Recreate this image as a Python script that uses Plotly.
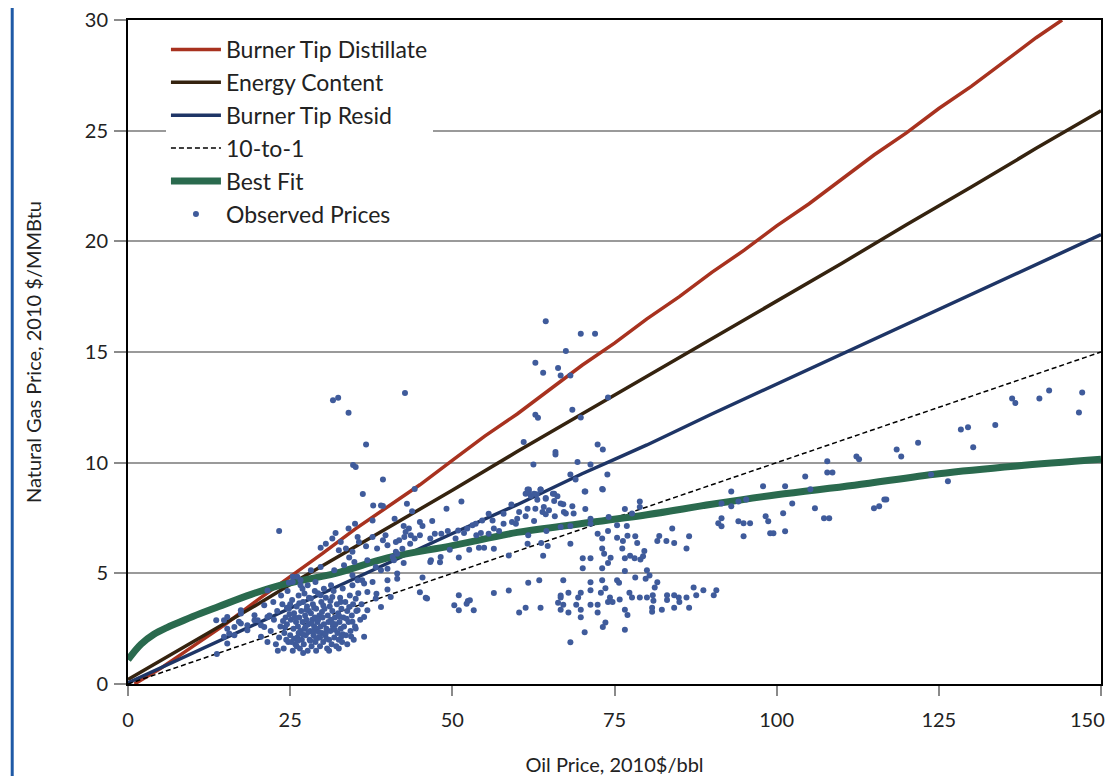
import plotly.graph_objects as go

# line series (oil price in 2010$/bbl vs natural gas price in 2010 $/MMBtu)
distillate_x = [1, 5, 10, 15, 20, 25, 30, 35, 40, 45, 50, 55, 60, 65, 70, 75, 80, 85, 90,
                95, 100, 105, 110, 115, 120, 125, 130, 135, 140, 144]
distillate_y = [0.0, 0.7, 1.7, 2.7, 3.8, 4.85, 5.9, 7.0, 8.0, 9.0, 10.1, 11.2, 12.2, 13.3,
                14.4, 15.4, 16.5, 17.5, 18.6, 19.6, 20.7, 21.7, 22.8, 23.9, 24.9, 26.0,
                27.0, 28.1, 29.2, 30.0]

energy_x = [0, 10, 20, 25, 30, 40, 50, 60, 70, 75, 80, 90, 100, 110, 120, 125, 130, 140, 150]
energy_y = [0.2, 1.9, 3.6, 4.5, 5.35, 7.05, 8.75, 10.5, 12.2, 13.05, 13.9, 15.6, 17.3,
            19.0, 20.75, 21.6, 22.45, 24.2, 25.9]

resid_x = [0, 10, 20, 25, 30, 40, 50, 60, 70, 75, 80, 90, 100, 110, 120, 125, 130, 140, 150]
resid_y = [0.05, 1.4, 2.75, 3.4, 4.1, 5.45, 6.8, 8.1, 9.5, 10.15, 10.8, 12.2, 13.55, 14.9,
           16.25, 16.9, 17.6, 18.95, 20.3]

ten_to_one_x = [0, 25, 50, 75, 100, 125, 150]
ten_to_one_y = [0.0, 2.5, 5.0, 7.5, 10.0, 12.5, 15.0]

best_fit_x = [0, 2, 4, 6, 8, 10, 14, 19, 24, 32, 40, 50, 60, 68, 80, 90, 100, 112, 125, 137, 150]
best_fit_y = [1.1, 1.8, 2.25, 2.55, 2.8, 3.05, 3.5, 4.05, 4.5, 5.0, 5.7, 6.25, 6.85, 7.17,
              7.65, 8.12, 8.55, 8.98, 9.5, 9.85, 10.15]

x_ticks = [0, 25, 50, 75, 100, 125, 150]
x_tick_labels = ["0", "25", "50", "75", "100", "125", "150"]

# observed monthly prices (oil, gas)
observed = [
    (112.3, 10.28), (112.7, 10.15), (118.5, 10.6), (119.2, 10.28), (121.8, 10.9), (123.8, 9.47),
    (126.4, 9.16), (128.4, 11.5), (129.5, 11.6), (130.3, 10.7), (133.7, 11.7), (136.3, 12.9),
    (136.8, 12.7), (140.5, 12.9), (142.0, 13.26), (146.6, 12.27), (147.1, 13.17), (115.0, 7.94),
    (115.8, 8.03), (116.6, 8.34), (116.9, 8.34),
    (88.7, 4.24), (90.3, 4.01), (90.7, 4.24), (91.5, 8.16), (93.0, 8.7), (93.0, 8.03), (94.1, 8.25),
    (95.3, 8.34), (91.0, 7.26), (91.5, 7.13), (91.5, 7.49), (94.1, 7.35), (94.9, 7.26), (94.9, 6.68),
    (95.9, 7.26), (97.9, 8.93), (98.3, 7.58), (98.7, 7.35), (99.0, 6.81), (99.5, 6.81), (101.0, 7.71),
    (101.3, 8.93), (101.3, 6.9), (102.4, 8.16), (104.4, 9.38), (105.2, 8.8), (105.9, 7.94),
    (107.3, 7.49), (108.1, 7.49), (107.8, 10.06), (107.8, 9.56), (108.6, 9.56),
    (61.8, 8.79), (63.6, 8.79), (65.7, 8.60), (61.3, 8.60), (62.1, 8.49), (63.0, 8.57), (64.4, 8.37),
    (66.2, 8.48), (70.4, 8.70), (73.1, 8.81), (63.1, 8.33), (65.7, 8.27), (66.7, 8.15), (67.1, 8.12),
    (68.5, 8.03), (70.5, 7.91), (67.2, 7.77), (64.1, 8.00), (62.8, 7.92), (61.6, 7.92), (64.9, 7.85),
    (63.9, 7.77), (65.8, 7.58), (64.4, 7.67), (67.5, 7.70), (68.7, 7.70), (62.6, 7.37), (61.3, 7.58),
    (66.7, 7.09), (68.2, 7.14), (71.3, 7.47), (71.3, 7.24), (74.1, 7.55), (75.4, 7.17), (76.9, 7.14),
    (76.6, 7.91), (78.9, 8.24), (78.9, 8.00), (77.7, 7.70), (83.9, 7.02), (64.5, 6.91), (61.7, 6.72),
    (61.6, 6.34), (63.7, 6.37), (64.7, 6.24), (68.2, 6.34), (72.4, 6.79), (74.0, 6.91), (73.1, 6.57),
    (75.4, 6.61), (76.3, 6.46), (77.0, 6.70), (78.2, 6.67), (78.5, 6.37), (81.6, 6.46), (81.9, 6.69),
    (83.0, 6.46), (84.2, 6.37), (86.5, 6.67), (86.1, 6.12), (73.1, 6.12), (76.2, 6.12), (73.4, 5.89),
    (74.4, 5.70), (74.0, 5.47), (71.3, 5.68), (70.1, 5.68), (70.1, 5.23), (73.1, 5.23), (76.6, 5.68),
    (77.4, 5.80), (78.1, 5.68), (79.0, 5.62), (79.4, 5.77), (79.6, 6.01), (64.0, 5.79), (76.6, 5.11),
    (80.0, 5.14), (80.4, 4.90), (78.2, 4.81), (79.8, 4.75), (81.6, 4.60), (61.7, 4.57), (63.4, 4.69),
    (67.1, 4.69), (71.3, 4.60), (73.1, 4.69), (75.4, 4.69), (75.7, 4.57), (81.2, 4.36), (87.2, 4.36),
    (73.6, 4.33), (72.9, 4.12), (71.3, 4.24), (69.8, 4.12), (67.9, 4.12), (66.7, 4.00), (66.7, 3.91),
    (69.4, 3.91), (74.3, 3.91), (75.8, 3.82), (77.3, 4.12), (77.7, 3.91), (78.9, 3.91), (80.0, 3.91),
    (80.9, 4.01), (81.0, 3.76), (83.1, 4.01), (83.1, 3.79), (84.2, 4.01), (84.9, 3.91), (86.1, 3.91),
    (87.6, 4.01), (61.3, 3.45), (63.6, 3.45), (66.3, 3.67), (67.1, 3.58), (69.1, 3.58), (66.7, 3.35),
    (67.9, 3.23), (69.8, 3.35), (69.8, 3.02), (71.3, 3.58), (72.4, 3.58), (72.4, 3.23), (74.0, 3.70),
    (74.7, 3.70), (76.6, 3.35), (77.0, 3.12), (80.8, 3.45), (80.8, 3.26), (82.3, 3.35), (84.2, 3.45),
    (85.0, 3.70), (86.5, 3.45), (73.6, 2.78), (73.2, 2.57), (76.6, 2.45), (70.4, 2.34), (68.2, 1.89),
    (64.4, 16.39), (69.8, 15.83), (72.0, 15.83), (67.5, 15.05), (62.8, 14.51), (64.0, 14.06),
    (66.3, 14.28), (66.7, 13.94), (68.2, 13.94), (74.0, 12.94), (68.5, 12.39), (62.8, 12.16),
    (63.2, 12.03), (69.8, 12.04), (61.0, 10.93), (72.4, 10.82), (73.2, 10.60), (65.9, 10.48),
    (65.9, 10.37), (62.5, 9.92), (69.3, 10.03), (71.3, 9.92), (73.9, 9.47), (68.2, 9.47), (69.0, 9.24),
    (70.5, 8.70), (73.2, 8.79), (61.6, 8.79), (61.8, 8.67), (62.6, 8.60), (63.6, 8.79), (65.5, 8.60),
    (64.4, 8.40),
    (44.2, 8.81), (43.0, 8.14), (51.4, 8.25), (49.1, 7.92), (41.1, 7.47), (43.8, 7.80), (45.0, 7.32),
    (45.4, 7.14), (46.9, 7.36), (42.5, 7.14), (43.3, 7.02), (42.8, 6.87), (41.3, 6.42), (41.8, 6.49),
    (42.6, 6.64), (43.6, 6.72), (44.2, 6.57), (45.0, 6.72), (43.5, 6.34), (42.3, 6.11), (46.6, 6.57),
    (47.3, 6.79), (48.3, 6.79), (49.3, 6.91), (50.5, 6.57), (50.9, 6.94), (51.8, 6.82), (52.3, 7.02),
    (53.1, 7.17), (53.7, 6.72), (54.4, 6.82), (55.6, 6.79), (56.4, 7.02), (57.2, 6.91), (57.9, 7.24),
    (53.6, 7.24), (54.6, 7.39), (55.6, 7.69), (56.2, 7.39), (57.9, 7.69), (59.2, 7.32), (59.8, 7.24),
    (60.0, 7.47), (60.3, 7.77), (59.1, 8.11), (52.6, 6.07), (54.1, 6.16), (54.9, 6.16), (56.4, 6.11),
    (58.7, 5.81), (48.2, 5.74), (46.6, 5.51), (46.7, 5.59), (48.1, 5.50), (51.0, 5.71), (49.6, 6.07),
    (40.8, 5.74), (41.5, 5.89), (42.5, 5.47), (41.5, 4.76), (45.4, 4.81), (45.0, 4.14), (45.9, 3.90),
    (46.1, 3.86), (51.0, 4.01), (50.3, 3.56), (51.0, 3.33), (52.4, 3.75), (52.7, 3.78), (52.2, 3.63),
    (53.3, 3.33), (56.4, 4.11), (58.7, 4.23), (60.3, 3.23), (40.0, 4.27),
    (39.3, 9.24), (36.2, 8.58), (23.3, 6.91), (37.8, 8.06), (39.0, 8.06), (37.7, 7.39), (35.0, 7.24),
    (34.0, 7.02), (32.0, 6.82), (31.5, 6.57), (29.7, 6.16), (30.5, 6.34), (32.8, 6.42), (32.5, 6.04),
    (33.6, 6.12), (34.6, 5.97), (35.4, 6.64), (35.6, 6.42), (36.7, 6.22), (37.7, 6.64), (38.4, 6.12),
    (39.3, 6.49), (39.7, 6.72), (40.0, 6.27), (41.3, 5.97), (41.0, 5.59), (41.5, 4.99), (34.1, 5.71),
    (34.9, 5.51), (36.9, 5.59), (38.2, 5.29), (39.0, 5.14), (40.0, 5.21), (28.2, 5.14), (29.7, 5.29),
    (31.8, 5.14), (33.3, 5.36), (34.6, 4.91), (36.1, 4.69), (37.7, 4.61), (24.8, 4.57), (25.4, 4.61),
    (26.1, 4.84), (26.6, 4.46), (27.7, 4.46), (28.9, 4.61), (31.3, 4.46), (33.1, 4.31), (34.6, 4.46),
    (36.9, 4.16), (38.2, 3.86), (39.0, 3.48), (40.5, 3.93), (27.2, 4.09), (28.2, 3.86), (29.7, 4.01),
    (31.5, 3.93), (32.8, 3.71), (34.1, 3.48), (35.4, 3.33), (36.4, 3.03), (34.6, 2.81), (36.4, 2.13),
    (35.1, 2.51), (31.6, 12.82), (32.4, 12.93), (34.0, 12.25), (42.7, 13.15), (36.7, 10.82),
    (34.7, 9.90), (35.1, 9.80), (39.3, 8.04), (13.7, 1.35), (13.6, 2.88), (14.8, 2.88), (15.3, 2.50),
    (16.4, 2.20), (17.4, 2.73), (18.4, 2.43), (19.5, 2.88), (20.5, 2.66), (17.4, 3.18), (19.5, 3.11),
    (21.0, 3.56), (21.5, 4.23), (25.4, 4.84), (26.6, 4.69), (40.0, 4.69), (35.4, 4.69), (36.4, 4.54),
    (38.3, 4.08), (36.9, 3.33), (14.8, 2.13), (15.6, 2.28), (16.4, 2.58), (17.1, 2.81), (18.4, 2.66),
    (20.0, 2.88), (21.0, 2.58), (21.5, 3.03), (20.5, 2.13), (15.3, 1.83), (15.3, 3.03), (17.4, 3.33),
    (22.0, 2.4), (22.5, 2.9), (22.8, 1.8), (23.0, 3.3), (23.3, 2.1), (23.5, 2.6), (23.8, 3.6),
    (24.0, 1.6), (24.1, 2.3), (24.3, 3.0), (24.5, 2.7), (24.7, 1.9), (24.8, 3.4), (25.0, 2.2),
    (25.1, 2.9), (25.3, 3.8), (25.4, 1.5), (25.5, 2.5), (25.6, 3.2), (25.8, 1.8), (25.9, 2.8),
    (26.0, 3.5), (26.1, 2.1), (26.2, 2.6), (26.3, 4.0), (26.4, 3.0), (26.5, 1.6), (26.6, 2.4),
    (26.7, 3.3), (26.8, 2.0), (26.9, 2.8), (27.0, 3.7), (27.1, 1.8), (27.2, 2.5), (27.3, 3.1),
    (27.4, 2.2), (27.5, 2.9), (27.6, 3.5), (27.7, 1.5), (27.8, 2.7), (27.9, 3.9), (28.0, 2.0),
    (28.1, 2.4), (28.2, 3.2), (28.3, 1.7), (28.4, 2.9), (28.5, 3.6), (28.6, 2.2), (28.7, 2.6),
    (28.8, 3.0), (28.9, 1.9), (29.0, 3.4), (29.1, 2.5), (29.2, 2.8), (29.3, 4.1), (29.4, 2.1),
    (29.5, 3.1), (29.6, 1.7), (29.7, 2.6), (29.8, 3.7), (29.9, 2.3), (30.0, 3.0), (30.1, 1.9),
    (30.2, 2.7), (30.3, 3.4), (30.4, 2.2), (30.5, 3.9), (30.6, 2.5), (30.7, 1.6), (30.8, 3.1),
    (30.9, 2.8), (31.0, 2.0), (31.1, 3.5), (31.2, 2.4), (31.3, 2.9), (31.4, 1.8), (31.5, 3.3),
    (31.6, 2.6), (31.7, 4.2), (31.8, 2.1), (31.9, 3.0), (32.0, 2.7), (32.1, 1.7), (32.2, 3.6),
    (32.3, 2.3), (32.4, 3.2), (32.5, 2.0), (32.6, 2.8), (32.7, 3.9), (32.8, 2.5), (32.9, 3.4),
    (33.0, 1.9), (33.2, 3.0), (33.3, 2.6), (33.5, 3.7), (33.6, 2.2), (33.8, 3.3), (34.0, 2.8),
    (34.2, 4.0), (34.3, 2.4), (34.5, 3.1), (34.7, 3.6), (35.0, 2.6), (35.2, 3.3), (35.5, 4.1),
    (35.8, 2.9), (36.0, 3.6), (22.4, 3.7), (23.6, 4.0), (24.6, 4.2), (26.9, 4.3), (28.8, 4.2),
    (30.2, 4.3), (21.5, 1.9), (21.8, 3.1), (23.1, 1.5), (25.2, 1.9), (27.0, 1.4), (29.0, 1.5),
    (31.0, 1.5), (32.5, 1.6), (33.8, 1.8), (34.8, 2.0), (26.3, 2.3), (27.4, 2.6), (28.6, 2.4),
    (29.6, 2.1), (30.5, 2.3), (25.7, 3.0), (27.9, 3.3), (29.3, 2.9), (24.4, 2.0), (26.0, 1.7),
    (24.2, 2.55), (24.9, 3.15), (25.6, 2.05), (26.4, 3.65), (26.9, 2.25), (27.5, 3.35), (28.1, 1.95),
    (28.7, 3.45), (29.4, 2.35), (29.9, 3.25), (30.6, 2.05), (31.2, 3.75), (31.9, 2.45), (32.6, 3.05),
    (33.1, 2.25), (33.7, 2.95), (34.4, 2.15), (35.1, 3.85), (25.0, 3.6), (27.8, 2.35), (28.3, 2.75),
    (29.0, 2.05), (30.1, 3.55), (31.5, 2.75), (32.9, 2.15), (26.2, 1.95), (24.5, 3.45), (23.9, 2.85),
]
obs_x = [p[0] for p in observed]
obs_y = [p[1] for p in observed]

fig = go.Figure()

fig.add_trace(go.Scatter(x=distillate_x, y=distillate_y, mode="lines", name="Burner Tip Distillate",
                         line=dict(color="#a8321f", width=3.5), legendgroup="a"))
fig.add_trace(go.Scatter(x=energy_x, y=energy_y, mode="lines", name="Energy Content",
                         line=dict(color="#35230f", width=3.5), legendgroup="b"))
fig.add_trace(go.Scatter(x=resid_x, y=resid_y, mode="lines", name="Burner Tip Resid",
                         line=dict(color="#1e3566", width=3.5), legendgroup="c"))
fig.add_trace(go.Scatter(x=ten_to_one_x, y=ten_to_one_y, mode="lines", name="10-to-1",
                         line=dict(color="black", width=1.5, dash="5px,3px"), legendgroup="d"))
fig.add_trace(go.Scatter(x=best_fit_x, y=best_fit_y, mode="lines", name="Best Fit",
                         line=dict(color="#2a6a4e", width=7, shape="spline"), legendgroup="e"))
fig.add_trace(go.Scatter(x=obs_x, y=obs_y, mode="markers", name="Observed Prices",
                         marker=dict(color="#3f5b9b", size=6), legendgroup="f"))

# blue rule down the left edge of the page
fig.add_shape(type="line", xref="paper", yref="paper", x0=-0.119, x1=-0.119, y0=-0.15, y1=1.03,
              line=dict(color="#1f5aa6", width=3))

# the last tick label would be cut by the window edge, so it is drawn right-aligned instead
fig.add_annotation(x=x_ticks[-1], y=0, xref="x", yref="paper", text=x_tick_labels[-1],
                   showarrow=False, xanchor="right", yanchor="middle", xshift=6, yshift=-35,
                   font=dict(size=20, color="#222"))

fig.update_xaxes(range=[0, 150], tickvals=x_ticks, ticktext=x_tick_labels[:-1] + [""],
                 showgrid=False, zeroline=False, automargin=False,
                 showline=True, linecolor="black", linewidth=2, mirror=True,
                 ticks="outside", ticklen=10, tickcolor="#8a8a8a", tickwidth=2,
                 ticklabelstandoff=7,
                 tickfont=dict(size=20, color="#222"),
                 title=dict(text="Oil Price, 2010$/bbl", font=dict(size=20, color="#222"), standoff=38))
fig.update_yaxes(range=[0, 30], dtick=5, showgrid=True, gridcolor="#9a9a9a", gridwidth=2,
                 zeroline=False, showline=True, linecolor="black", linewidth=2, mirror=True,
                 automargin=False, ticklabeloverflow="allow", ticklabelstandoff=2,
                 ticks="outside", ticklen=12, tickcolor="#8a8a8a", tickwidth=2,
                 tickfont=dict(size=20, color="#222"),
                 title=dict(text="Natural Gas Price, 2010 $/MMBtu", font=dict(size=20, color="#222"),
                            standoff=38))

# the page adds an 8px body margin, so the figure sits 8px in from the window corner
fig.update_layout(
    width=1100, height=768,
    margin=dict(l=120, r=7, t=12, b=92),
    paper_bgcolor="white", plot_bgcolor="white",
    font=dict(family="Lato, Open Sans, sans-serif", color="#222"),
    showlegend=True,
    legend=dict(x=0.039, y=0.988, xanchor="left", yanchor="top", bgcolor="white",
                font=dict(size=23, color="#222"), tracegroupgap=0, itemwidth=50),
)

fig.write_html("out.html")
